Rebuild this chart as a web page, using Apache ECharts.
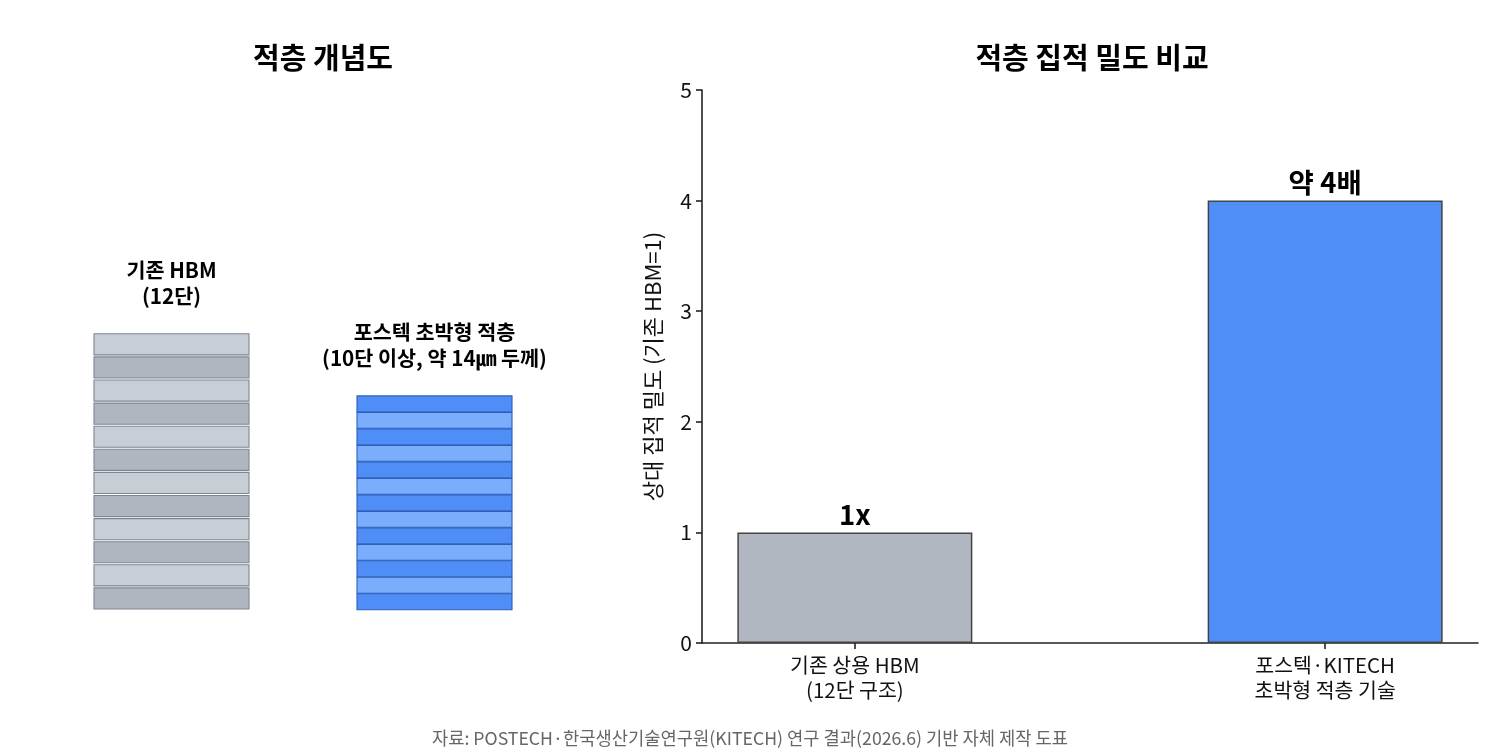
<!DOCTYPE html>
<html>
<head>
<meta charset="utf-8">
<script src="https://cdn.jsdelivr.net/npm/echarts@6/dist/echarts.min.js"></script>
<style>
html, body { margin: 0; padding: 0; background: #fff; }
#main { width: 1500px; height: 750px; }
</style>
</head>
<body>
<div id="main"></div>
<script>
// bar chart data
let categories = ['기존 상용 HBM\n(12단 구조)', '포스텍·KITECH\n초박형 적층 기술'];
let densityValues = [1, 4];
let densityLabels = ['1x', '약 4배'];
let barColors = ['#b0b7c1', '#4f8ef7'];

// concept diagram data: [stack x center, layer count, layer thickness]
let stackNames = ['기존 HBM\n(12단)', '포스텍 초박형 적층\n(10단 이상, 약 14㎛ 두께)'];
let stackCenters = [2.23, 7.49];
let stackLayers = [12, 13];
let stackThickness = [1, 0.714];
let stackColors = [['#afb6bf', '#c8ced6'], ['#4f8ef7', '#7aaefc']];
let stackBorders = ['#7f868e', '#2c5fba'];

let FONT = '"Noto Sans CJK KR", "Noto Sans", sans-serif';

let myChart = echarts.init(document.getElementById('main'));

let layerData = [];
stackCenters.forEach(function(cx, s) {
	for (let i = 0; i < stackLayers[s]; i++) {
		layerData.push([cx, i * stackThickness[s], (i + 1) * stackThickness[s], s, i]);
	}
});
let labelData = stackCenters.map(function(cx, s) {
	return [cx, stackLayers[s] * stackThickness[s], s];
});

let option = {
	backgroundColor: '#fff',
	textStyle: { fontFamily: FONT },
	title: [{
			text: '적층 개념도',
			left: 318,
			top: 38,
			textAlign: 'center',
			textStyle: { fontFamily: FONT, fontSize: 29, fontWeight: 'bold', color: '#000' }
		},
		{
			text: '적층 집적 밀도 비교',
			left: 1087,
			top: 38,
			textAlign: 'center',
			textStyle: { fontFamily: FONT, fontSize: 29, fontWeight: 'bold', color: '#000' }
		},
		{
			text: '자료: POSTECH·한국생산기술연구원(KITECH) 연구 결과(2026.6) 기반 자체 제작 도표',
			left: 745,
			top: 724,
			textAlign: 'center',
			textStyle: { fontFamily: FONT, fontSize: 17.7, fontWeight: 'normal', color: '#666' }
		}
	],
	grid: [{
			left: 702,
			right: 22,
			top: 90,
			bottom: 107
		},
		{
			left: 60,
			width: 500,
			top: 200,
			bottom: 140
		}
	],
	xAxis: [{
			type: 'value',
			gridIndex: 0,
			min: -0.325,
			max: 1.325,
			splitLine: { show: false },
			axisLine: { show: true, onZero: false, lineStyle: { color: '#222', width: 1.6 } },
			axisTick: { show: true, customValues: [0, 1], length: 6, lineStyle: { color: '#222', width: 1.6 } },
			axisLabel: {
				customValues: [0, 1],
				formatter: function(v) { return categories[Math.round(v)]; },
				fontSize: 20.5,
				lineHeight: 25,
				color: '#111',
				margin: 10,
				fontFamily: FONT
			}
		},
		{
			type: 'value',
			gridIndex: 1,
			min: 0,
			max: 10,
			show: false
		}
	],
	yAxis: [{
			type: 'value',
			gridIndex: 0,
			min: 0,
			max: 5,
			interval: 1,
			name: '상대 집적 밀도 (기존 HBM=1)',
			nameLocation: 'middle',
			nameGap: 38,
			nameTextStyle: { fontSize: 22, color: '#111', fontFamily: FONT },
			splitLine: { show: false },
			axisLine: { show: true, onZero: false, lineStyle: { color: '#222', width: 1.6 } },
			axisTick: { show: true, length: 6, lineStyle: { color: '#222', width: 1.6 } },
			axisLabel: { fontSize: 21, color: '#111', margin: 10, fontFamily: FONT }
		},
		{
			type: 'value',
			gridIndex: 1,
			min: 0,
			max: 17.75,
			show: false
		}
	],
	series: [{
			type: 'bar',
			xAxisIndex: 0,
			yAxisIndex: 0,
			barWidth: 235,
			data: densityValues.map(function(v, i) {
				return {
					value: [i, v],
					itemStyle: { color: barColors[i], borderColor: '#444', borderWidth: 1.5 },
					label: {
						show: true,
						position: 'top',
						distance: 4,
						formatter: densityLabels[i],
						fontSize: 27.5,
						fontWeight: 'bold',
						color: '#000',
						fontFamily: FONT
					}
				};
			})
		},
		{
			type: 'custom',
			xAxisIndex: 1,
			yAxisIndex: 1,
			silent: true,
			data: layerData,
			renderItem: function(params, api) {
				let s = api.value(3);
				let idx = api.value(4);
				let w = api.size([3.1, 0])[0];
				let p0 = api.coord([api.value(0), api.value(1)]);
				let p1 = api.coord([api.value(0), api.value(2)]);
				let gap = s === 0 ? 2 : 0.6;
				return {
					type: 'rect',
					shape: { x: p0[0] - w / 2, y: p1[1] + gap / 2, width: w, height: p0[1] - p1[1] - gap },
					style: {
						fill: stackColors[s][idx % 2],
						stroke: stackBorders[s],
						lineWidth: 1.1
					}
				};
			}
		},
		{
			type: 'custom',
			xAxisIndex: 1,
			yAxisIndex: 1,
			silent: true,
			data: labelData,
			renderItem: function(params, api) {
				let p = api.coord([api.value(0), api.value(1)]);
				return {
					type: 'text',
					x: p[0],
					y: p[1] - 24,
					style: {
						text: stackNames[api.value(2)],
						textAlign: 'center',
						textVerticalAlign: 'bottom',
						fontFamily: FONT,
						fontSize: 20.7,
						fontWeight: 'bold',
						lineHeight: 26,
						fill: '#000'
					}
				};
			}
		}
	]
};

option && myChart.setOption(option);
</script>
</body>
</html>
